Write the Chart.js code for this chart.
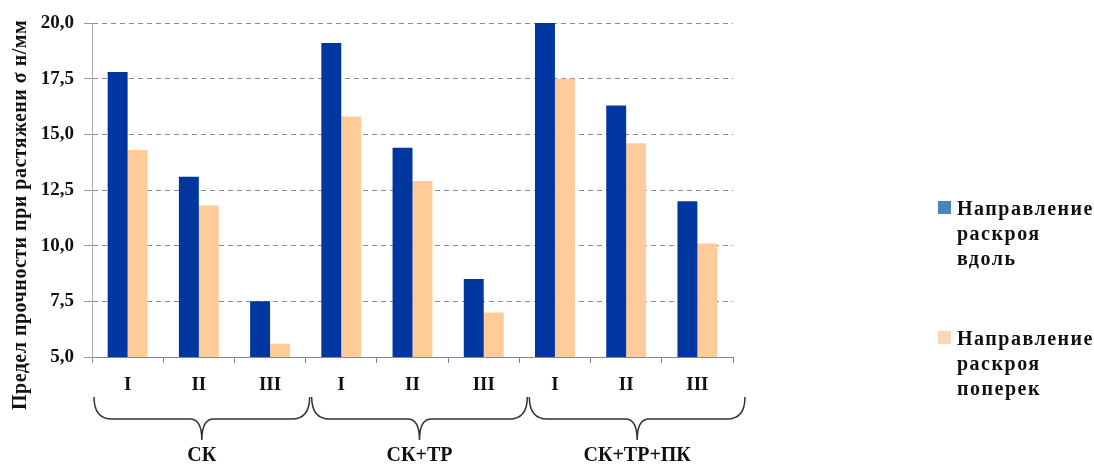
<!DOCTYPE html>
<html>
<head>
<meta charset="utf-8">
<script src="https://cdn.jsdelivr.net/npm/chart.js@4/dist/chart.umd.min.js"></script>
<style>
  body { margin: 0; background: #fff; }
  #wrap { position: relative; width: 1094px; height: 466px; }
  .legend { position: absolute; left: 938px; font: bold 20px "Liberation Serif", serif; letter-spacing: 1.5px; line-height: 25px; color: #111; }
  .legend .box { position: absolute; left: 0; top: 5px; width: 13px; height: 13px; }
  .legend .txt { margin-left: 19px; }
</style>
</head>
<body>
<div id="wrap">
  <canvas id="chart" width="1094" height="466"></canvas>
  <div class="legend" style="top:196px"><span class="box" style="background:#4f81bd"></span><div class="txt">Направление<br>раскроя<br>вдоль</div></div>
  <div class="legend" style="top:326px"><span class="box" style="background:#fbd5b5"></span><div class="txt">Направление<br>раскроя<br>поперек</div></div>
</div>
<script>
// categories and groups
const categories = ['I', 'II', 'III', 'I', 'II', 'III', 'I', 'II', 'III'];
const groups = ['СК', 'СК+ТР', 'СК+ТР+ПК'];
// values
const alongValues = [17.8, 13.1, 7.5, 19.1, 14.4, 8.5, 20.0, 16.3, 12.0];
const acrossValues = [14.3, 11.8, 5.6, 15.8, 12.9, 7.0, 17.5, 14.6, 10.1];
const seriesNames = ['Направление раскроя вдоль', 'Направление раскроя поперек'];
const yTitle = 'Предел прочности при растяжени σ н/мм';

const serif = '"Liberation Serif", "Times New Roman", serif';

// braces under the axis + group names + rotated y title
const extras = {
  id: 'extras',
  afterDraw(chart) {
    const ctx = chart.ctx;
    const x = chart.scales.x;
    const step = (x.getPixelForValue(1) - x.getPixelForValue(0));
    const yTop = 397, yMid = 419, yTip = 440;
    ctx.save();
    ctx.strokeStyle = '#333';
    ctx.lineWidth = 1.5;
    groups.forEach((g, i) => {
      const x0 = x.getPixelForValue(i * 3) - step / 2 + 2 + 4 * i;
      const x1 = x.getPixelForValue(i * 3 + 2) + step / 2 + 4 + 4 * i;
      const cx = (x0 + x1) / 2;
      const r = 18, r2 = 12;
      ctx.beginPath();
      ctx.moveTo(x0, yTop);
      ctx.quadraticCurveTo(x0, yMid, x0 + r, yMid);
      ctx.lineTo(cx - r2, yMid);
      ctx.quadraticCurveTo(cx, yMid, cx, yTip);
      ctx.quadraticCurveTo(cx, yMid, cx + r2, yMid);
      ctx.lineTo(x1 - r, yMid);
      ctx.quadraticCurveTo(x1, yMid, x1, yTop);
      ctx.stroke();

      ctx.fillStyle = '#111';
      ctx.font = 'bold 20px ' + serif;
      ctx.textAlign = 'center';
      ctx.textBaseline = 'middle';
      ctx.fillText(g, cx, 456);
    });
    ctx.translate(21, 215);
    ctx.rotate(-Math.PI / 2);
    ctx.font = 'bold 20px ' + serif;
    ctx.letterSpacing = '0.5px';
    ctx.fillStyle = '#111';
    ctx.textAlign = 'center';
    ctx.textBaseline = 'middle';
    ctx.fillText(yTitle, 0, 0);
    ctx.restore();
  }
};

new Chart(document.getElementById('chart'), {
  type: 'bar',
  data: {
    labels: categories,
    datasets: [
      { label: seriesNames[0], data: alongValues, backgroundColor: '#0036a0', borderWidth: 0 },
      { label: seriesNames[1], data: acrossValues, backgroundColor: '#ffcc99', borderWidth: 0 }
    ]
  },
  options: {
    responsive: false,
    animation: false,
    layout: { padding: { top: 23, right: 361, left: 0, bottom: 0 } },
    datasets: { bar: { categoryPercentage: 0.56, barPercentage: 1 } },
    plugins: { legend: { display: false }, tooltip: { enabled: false } },
    scales: {
      x: {
        afterFit(s) { s.height = 109; },
        grid: { drawOnChartArea: false, drawTicks: true, tickLength: 6, color: '#888' },
        border: { color: '#888', width: 1 },
        ticks: { color: '#111', padding: 11, font: { family: serif, size: 19, weight: 'bold' } }
      },
      y: {
        min: 5,
        max: 20,
        afterFit(s) { s.width = 92; },
        ticks: {
          stepSize: 2.5,
          padding: 10,
          color: '#111',
          font: { family: serif, size: 19, weight: 'bold' },
          callback: v => v.toFixed(1).replace('.', ',')
        },
        grid: { color: '#8a8a8a', tickLength: 8, tickColor: '#999' },
        border: { color: '#b0b0b0', width: 1, dash: [5, 4] }
      }
    }
  },
  plugins: [extras]
});
</script>
</body>
</html>
